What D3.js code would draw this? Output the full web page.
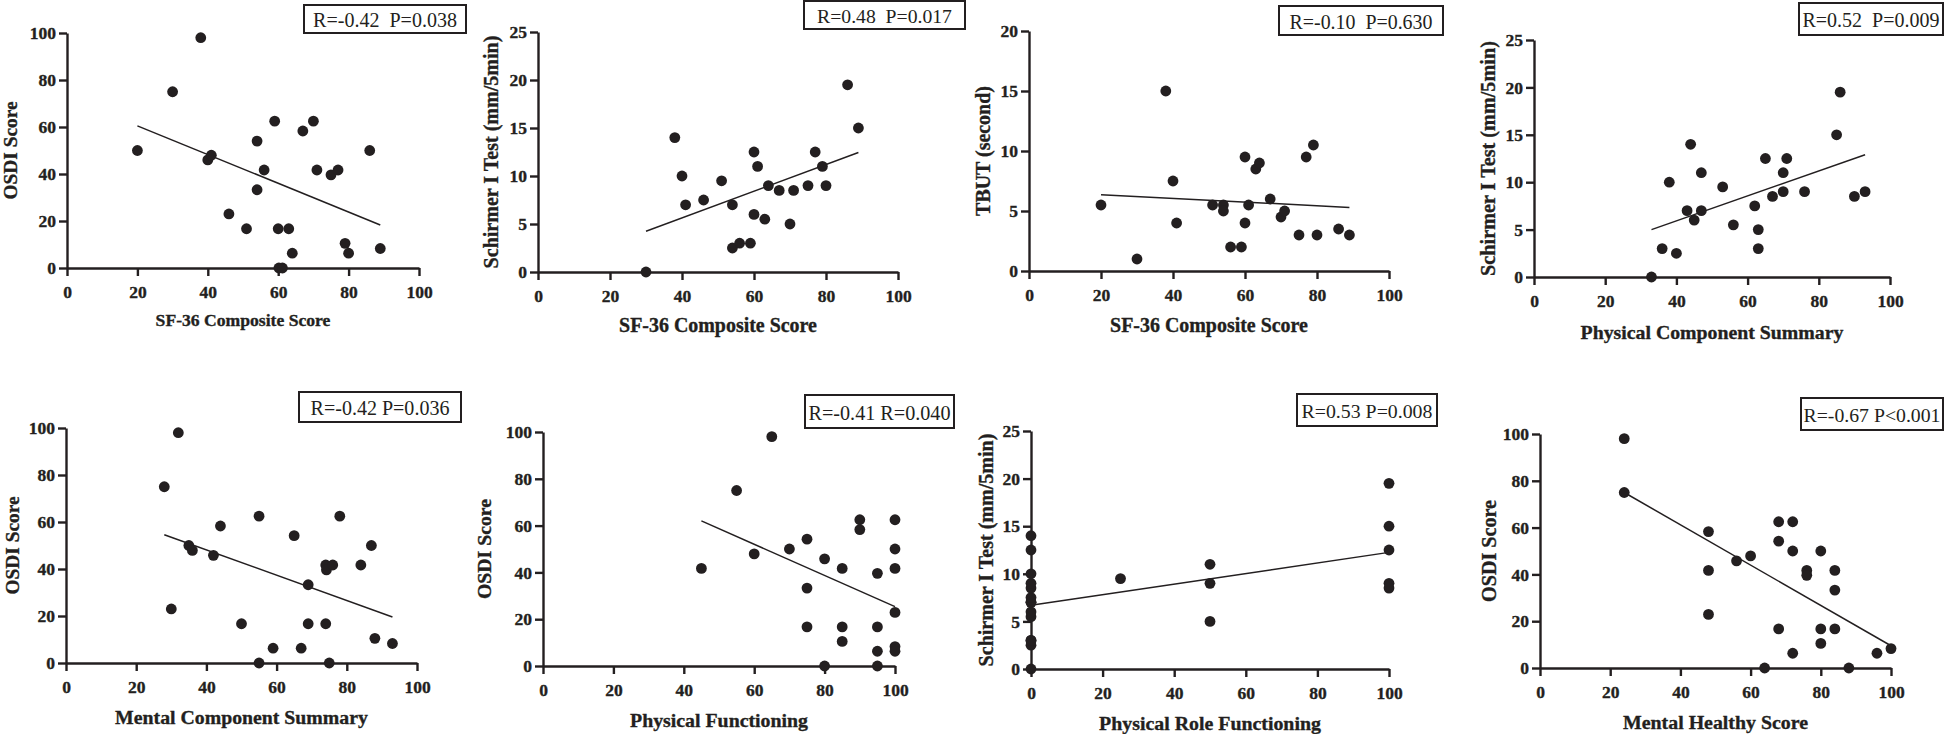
<!DOCTYPE html>
<html>
<head>
<meta charset="utf-8">
<script src="https://cdn.jsdelivr.net/npm/d3@7"></script>
<style>
  body { margin: 0; background: #fff; }
  svg text { font-family: "Liberation Serif", "Times New Roman", serif; fill: #231f20; }
</style>
</head>
<body>
<svg id="chart" width="1946" height="734"></svg>
<script>
// ---- data ----
const sf36Osdi_x = [20, 30, 38, 40, 41, 46, 51, 54, 54, 56, 59, 60, 60.2, 61.2, 63, 64, 67, 70, 71, 75, 77, 79, 80, 86, 89];
const sf36Osdi_y = [50, 75, 98, 46, 48, 23, 16.7, 54, 33.3, 41.7, 62.5, 16.7, 0, 0, 16.7, 6.3, 58.3, 62.5, 41.7, 39.6, 41.7, 10.5, 6.3, 50, 8.3];

const sf36Schirmer_x = [30, 38, 40, 41, 46, 51, 54, 54, 56, 59, 60, 60, 61, 63, 64, 67, 70, 71, 75, 77, 79, 80, 86, 89];
const sf36Schirmer_y = [0, 14, 10, 7, 7.5, 9.5, 7, 2.5, 3, 3, 12.5, 6, 11, 5.5, 9, 8.5, 5, 8.5, 9, 12.5, 11, 9, 19.5, 15];

const sf36Tbut_x = [20, 30, 38, 40, 41, 51, 54, 54, 56, 59, 60, 60, 61, 63, 64, 67, 70, 71, 75, 77, 79, 80, 86, 89];
const sf36Tbut_y = [5.5, 1, 15, 7.5, 4, 5.5, 5.5, 5, 2, 2, 9.5, 4, 5.5, 8.5, 9, 6, 4.5, 5, 3, 9.5, 10.5, 3, 3.5, 3];

const pcsSchirmer_x = [33, 36, 38, 40, 43, 44, 45, 47, 47, 53, 56, 62, 63, 63, 65, 67, 70, 70, 71, 76, 85, 86, 90, 93];
const pcsSchirmer_y = [0, 3, 10, 2.5, 7, 14, 6, 11, 7, 9.5, 5.5, 7.5, 5, 3, 12.5, 8.5, 11, 9, 12.5, 9, 15, 19.5, 8.5, 9];

const mcsOsdi_x = [28, 30, 32, 35, 36, 42, 44, 50, 55, 55, 59, 65, 67, 69, 69, 74, 74.2, 74, 75, 76, 78, 84, 87, 88, 93];
const mcsOsdi_y = [75, 23, 98, 50, 47.9, 45.8, 58.3, 16.7, 62.5, 0, 6.3, 54.2, 6.3, 33.3, 16.7, 41.7, 39.6, 16.7, 0, 41.7, 62.5, 41.7, 50, 10.5, 8.3];

const pfOsdi_x = [45, 55, 60, 65, 70, 75, 75, 75, 80, 80, 85, 85, 85, 90, 90, 95, 95, 95, 95, 100, 100, 100, 100, 100, 100];
const pfOsdi_y = [41.7, 75, 47.9, 98, 50, 54.2, 33.3, 16.7, 45.8, 0, 41.7, 16.7, 10.5, 62.5, 58.3, 39.6, 16.7, 6.3, 0, 62.5, 50, 41.7, 22.9, 8.3, 6.3];

const roleSchirmer_x = [0, 0, 0, 0, 0, 0, 0, 0, 0, 0, 0, 0, 0, 0, 25, 50, 50, 50, 100, 100, 100, 100, 100];
const roleSchirmer_y = [0, 2.5, 3, 3, 5.5, 6, 7, 7, 7.5, 8.5, 9, 10, 12.5, 14, 9.5, 11, 9, 5, 19.5, 15, 12.5, 9, 8.5];

const mhOsdi_x = [24, 24, 48, 48, 48, 56, 60, 64, 68, 68, 68, 72, 72, 72, 76, 76, 80, 80, 80, 84, 84, 84, 88, 96, 100];
const mhOsdi_y = [98, 75, 58.3, 41.7, 22.9, 45.8, 47.9, 0, 62.5, 54.2, 16.7, 62.5, 50, 6.3, 41.7, 39.6, 50, 16.7, 10.5, 41.7, 33.3, 16.7, 0, 6.3, 8.3];

// fitted lines as drawn: [x start, y start, x end, y end]
const fitLines = [
  [20, 60.5, 89, 18.3],
  [30, 4.25, 89, 12.45],
  [20, 6.35, 89, 5.3],
  [33, 5.0, 93, 12.9],
  [28, 54.6, 93, 19.6],
  [45, 62, 100, 25.4],
  [0, 6.7, 100, 12.25],
  [24, 75, 100, 9.5]
];

const xTitles = ["SF-36 Composite Score", "SF-36 Composite Score", "SF-36 Composite Score", "Physical Component Summary",
                 "Mental Component Summary", "Physical Functioning", "Physical Role Functioning", "Mental Healthy Score"];
const yTitles = ["OSDI Score", "Schirmer I Test (mm/5min)", "TBUT (second)", "Schirmer I Test (mm/5min)",
                 "OSDI Score", "OSDI Score", "Schirmer I Test (mm/5min)", "OSDI Score"];
const statLabels = ["R=-0.42  P=0.038", "R=0.48  P=0.017", "R=-0.10  P=0.630", "R=0.52  P=0.009",
                    "R=-0.42 P=0.036", "R=-0.41 R=0.040", "R=0.53 P=0.008", "R=-0.67 P<0.001"];
const xTickValues = [0, 20, 40, 60, 80, 100];
const yTickSets = [
  [0, 20, 40, 60, 80, 100],
  [0, 5, 10, 15, 20, 25],
  [0, 5, 10, 15, 20],
  [0, 5, 10, 15, 20, 25],
  [0, 20, 40, 60, 80, 100],
  [0, 20, 40, 60, 80, 100],
  [0, 5, 10, 15, 20, 25],
  [0, 20, 40, 60, 80, 100]
];

const series = [
  [sf36Osdi_x, sf36Osdi_y], [sf36Schirmer_x, sf36Schirmer_y], [sf36Tbut_x, sf36Tbut_y], [pcsSchirmer_x, pcsSchirmer_y],
  [mcsOsdi_x, mcsOsdi_y], [pfOsdi_x, pfOsdi_y], [roleSchirmer_x, roleSchirmer_y], [mhOsdi_x, mhOsdi_y]
];

// ---- layout: pixel frame of each panel, title offsets and the widths the titles take up ----
const frames = [
  {l: 67,   r: 419,  t: 33,  b: 268, box: [304, 5, 466, 33],      ylab: 57, xlab: 52, xw: 175, yw: 98,  sw: 144},
  {l: 538,  r: 898,  t: 32,  b: 272, box: [804, 1, 965, 29],      ylab: 47, xlab: 53, xw: 198, yw: 233, sw: 135},
  {l: 1029, r: 1389, t: 31,  b: 271, box: [1279, 6, 1443, 35],    ylab: 46, xlab: 54, xw: 198, yw: 130, sw: 143},
  {l: 1534, r: 1890, t: 40,  b: 277, box: [1799, 3, 1943, 35],    ylab: 46, xlab: 55, xw: 263, yw: 235, sw: 137},
  {l: 66,   r: 417,  t: 428, b: 663, box: [299, 392, 461, 422],   ylab: 54, xlab: 54, xw: 253, yw: 98,  sw: 139},
  {l: 543,  r: 895,  t: 432, b: 666, box: [805, 395, 954, 428],   ylab: 59, xlab: 54, xw: 178, yw: 100, sw: 142},
  {l: 1031, r: 1389, t: 431, b: 669, box: [1297, 394, 1437, 426], ylab: 45, xlab: 54, xw: 222, yw: 233, sw: 131},
  {l: 1540, r: 1891, t: 434, b: 668, box: [1801, 398, 1943, 430], ylab: 51, xlab: 54, xw: 185, yw: 102, sw: 137}
];

const ink = "#231f20";
const svg = d3.select("#chart");

// size a text so it spans the given width
function fitText(sel, base, width) {
  sel.style("font-size", base + "px");
  const len = sel.node().getComputedTextLength();
  sel.style("font-size", (base * width / len).toFixed(2) + "px");
}

frames.forEach((f, i) => {
  const ticksY = yTickSets[i];
  const x = d3.scaleLinear().domain([0, 100]).range([f.l, f.r]);
  const y = d3.scaleLinear().domain([0, d3.max(ticksY)]).range([f.b, f.t]);
  const g = svg.append("g");

  const xAxis = g.append("g")
    .attr("transform", `translate(0,${f.b})`)
    .call(d3.axisBottom(x).tickValues(xTickValues).tickSize(8).tickSizeOuter(0).tickPadding(10));
  const yAxis = g.append("g")
    .attr("transform", `translate(${f.l},0)`)
    .call(d3.axisLeft(y).tickValues(ticksY).tickSize(8).tickSizeOuter(0).tickPadding(3));

  [xAxis, yAxis].forEach(a => {
    a.attr("font-family", "'Liberation Serif', serif").attr("font-size", 17.5);
    a.select(".domain").attr("stroke", ink).attr("stroke-width", 2.4);
    a.selectAll(".tick line").attr("stroke", ink).attr("stroke-width", 2.4);
    a.selectAll(".tick text")
      .attr("fill", ink)
      .attr("stroke", ink)
      .attr("stroke-width", 0.35)
      .style("font-family", "'Liberation Serif', serif")
      .style("font-weight", "bold")
      .style("font-size", "17.5px");
  });

  // axis titles
  const xt = g.append("text")
    .attr("x", (f.l + f.r) / 2)
    .attr("y", f.b + f.xlab)
    .attr("text-anchor", "middle")
    .attr("dominant-baseline", "central")
    .attr("stroke", ink)
    .attr("stroke-width", 0.35)
    .style("font-weight", "bold")
    .text(xTitles[i]);
  fitText(xt, 18, f.xw);

  const yt = g.append("text")
    .attr("transform", `translate(${f.l - f.ylab},${(f.t + f.b) / 2}) rotate(-90)`)
    .attr("text-anchor", "middle")
    .attr("dominant-baseline", "central")
    .attr("stroke", ink)
    .attr("stroke-width", 0.35)
    .style("font-weight", "bold")
    .text(yTitles[i]);
  fitText(yt, 18, f.yw);

  // regression line
  const fl = fitLines[i];
  g.append("line")
    .attr("x1", x(fl[0])).attr("y1", y(fl[1]))
    .attr("x2", x(fl[2])).attr("y2", y(fl[3]))
    .attr("stroke", ink)
    .attr("stroke-width", 1.5);

  // points
  const [xs, ys] = series[i];
  g.selectAll("circle")
    .data(xs.map((v, k) => [v, ys[k]]))
    .join("circle")
    .attr("cx", d => x(d[0]))
    .attr("cy", d => y(d[1]))
    .attr("r", 5.4)
    .attr("fill", ink);

  // statistics box
  const [bx0, by0, bx1, by1] = f.box;
  g.append("rect")
    .attr("x", bx0).attr("y", by0)
    .attr("width", bx1 - bx0).attr("height", by1 - by0)
    .attr("fill", "#fff")
    .attr("stroke", ink)
    .attr("stroke-width", 2);
  const st = g.append("text")
    .attr("x", (bx0 + bx1) / 2)
    .attr("y", (by0 + by1) / 2 + 1)
    .attr("text-anchor", "middle")
    .attr("dominant-baseline", "central")
    .style("white-space", "pre")
    .text(statLabels[i]);
  fitText(st, 20, f.sw);
});
</script>
</body>
</html>
